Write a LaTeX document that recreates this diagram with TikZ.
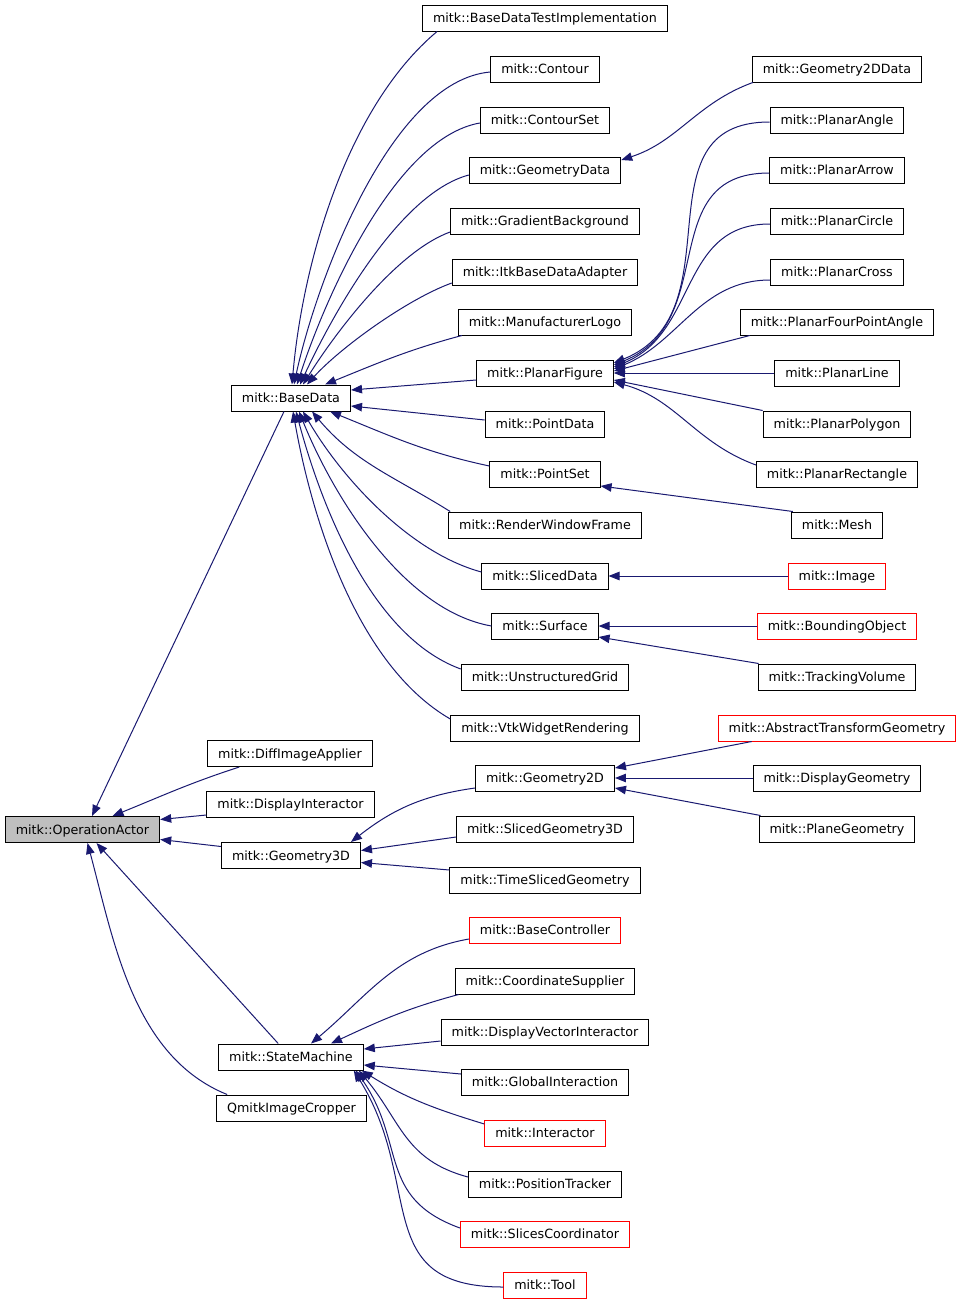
\documentclass[tikz,border=0pt]{standalone}
\usepackage{fontspec}
\setmainfont{DejaVu Sans}
\usetikzlibrary{arrows.meta}
\definecolor{edgeblue}{RGB}{25,25,112}
\definecolor{boxgray}{RGB}{191,191,191}
\begin{document}
\begin{tikzpicture}[x=1pt, y=-1pt, font=\fontsize{12.7}{15}\selectfont, >={Triangle[length=11pt,width=8.5pt]},
	cls/.style={draw=black, line width=1pt, minimum height=26pt, inner xsep=10.5pt, inner ysep=0pt, text height=11.5pt, text depth=2.5pt},
	clsred/.style={cls, draw=red},
	clsroot/.style={cls, fill=boxgray},
	inh/.style={draw=edgeblue, line width=1pt, ->}]
	\useasboundingbox (0,0) rectangle (963,1304);
	\node[clsroot] (opactor) at (82.5,829.5) {mitk::OperationActor};
	\node[cls] (basedata) at (291,398) {mitk::BaseData};
	\node[cls] (diffimg) at (290,753.5) {mitk::DiffImageApplier};
	\node[cls] (dispint) at (290.5,804) {mitk::DisplayInteractor};
	\node[cls] (geom3d) at (291,855.5) {mitk::Geometry3D};
	\node[cls] (statemach) at (291,1057) {mitk::StateMachine};
	\node[cls] (qcropper) at (291.5,1108) {QmitkImageCropper};
	\foreach \nm/\lbl/\y/\sty in {bdti/BaseDataTestImplementation/18/cls, contour/Contour/69/cls,
		contourset/ContourSet/120/cls, geomdata/GeometryData/170/cls, gradbg/GradientBackground/221/cls,
		itkadapter/ItkBaseDataAdapter/272/cls, manulogo/ManufacturerLogo/322/cls, planarfig/PlanarFigure/373/cls,
		pointdata/PointData/424/cls, pointset/PointSet/474/cls, renderwf/RenderWindowFrame/525/cls,
		sliceddata/SlicedData/576/cls, surface/Surface/626/cls, ugrid/UnstructuredGrid/677/cls,
		vtkwidget/VtkWidgetRendering/728/cls, geom2d/Geometry2D/778/cls, slicedgeom/SlicedGeometry3D/829/cls,
		timesliced/TimeSlicedGeometry/880/cls, basectrl/BaseController/930/clsred, coordsup/CoordinateSupplier/981/cls,
		dispvec/DisplayVectorInteractor/1032/cls, globalint/GlobalInteraction/1082/cls, interactor/Interactor/1133/clsred,
		postrack/PositionTracker/1184/cls, slicescoord/SlicesCoordinator/1234/clsred, tool/Tool/1285/clsred}
		\node[\sty] (\nm) at (545,\y) {mitk::\lbl};
	\foreach \nm/\lbl/\y/\sty in {geom2ddata/Geometry2DData/69/cls, planarangle/PlanarAngle/120/cls,
		planararrow/PlanarArrow/170/cls, planarcircle/PlanarCircle/221/cls, planarcross/PlanarCross/272/cls,
		planarfpa/PlanarFourPointAngle/322/cls, planarline/PlanarLine/373/cls, planarpoly/PlanarPolygon/424/cls,
		planarrect/PlanarRectangle/474/cls, mesh/Mesh/525/cls, image/Image/576/clsred,
		boundobj/BoundingObject/626/clsred, trackvol/TrackingVolume/677/cls,
		abstracttf/AbstractTransformGeometry/728/clsred, dispgeom/DisplayGeometry/778/cls, planegeom/PlaneGeometry/829/cls}
		\node[\sty] (\nm) at (837,\y) {mitk::\lbl};
	% BaseData
	\draw[inh] ([xshift=15pt]bdti.south west) to[out=220,in=85,looseness=0.8] ([xshift=1pt]basedata.north);
	\draw[inh] ([yshift=-3pt]contour.west) to[out=185,in=78,looseness=0.7] ([xshift=3pt]basedata.north);
	\draw[inh] ([yshift=-3pt]contourset.west) to[out=190,in=72,looseness=0.7] ([xshift=6pt]basedata.north);
	\draw[inh] ([yshift=-5pt]geomdata.west) to[out=195,in=65,looseness=0.7] ([xshift=9pt]basedata.north);
	\draw[inh] ([yshift=-11pt]gradbg.west) to[out=200,in=58,looseness=0.7] ([xshift=12pt]basedata.north);
	\draw[inh] ([yshift=-11pt]itkadapter.west) to[out=200,in=48,looseness=0.7] ([xshift=16pt]basedata.north);
	\draw[inh] ([xshift=4pt]manulogo.south west) to[out=195,in=22] ([xshift=34pt]basedata.north);
	\draw[inh] ([yshift=-7pt]planarfig.west) -- ([yshift=8pt]basedata.east);
	\draw[inh] ([yshift=4pt]pointdata.west) -- ([yshift=-8pt]basedata.east);
	\draw[inh] ([yshift=8pt]pointset.west) to[out=168,in=-22] ([xshift=39pt]basedata.south);
	\draw[inh] ([xshift=2pt]renderwf.north west) to[out=148,in=-50] ([xshift=21pt]basedata.south);
	\draw[inh] ([yshift=4pt]sliceddata.west) to[out=165,in=-60,looseness=0.8] ([xshift=12pt]basedata.south);
	\draw[inh] (surface.west) to[out=170,in=-68,looseness=0.8] ([xshift=8pt]basedata.south);
	\draw[inh] ([yshift=8pt]ugrid.west) to[out=160,in=-75,looseness=0.8] ([xshift=5pt]basedata.south);
	\draw[inh] ([yshift=9pt]vtkwidget.west) to[out=150,in=-80,looseness=0.8] ([xshift=2pt]basedata.south);
	% OperationActor
	\draw[inh] ([xshift=-7pt]basedata.south) -- ([xshift=9.5pt]opactor.north);
	\draw[inh] ([xshift=32pt]diffimg.south west) to[out=198,in=22] ([xshift=30pt]opactor.north);
	\draw[inh] ([yshift=-11pt]dispint.west) -- ([yshift=10pt]opactor.east);
	\draw[inh] ([yshift=9pt]geom3d.west) -- ([yshift=-10pt]opactor.east);
	\draw[inh] ([xshift=60pt]statemach.north west) -- ([xshift=14pt]opactor.south);
	\draw[inh] ([xshift=11pt]qcropper.north west) to[out=158,in=-75,looseness=0.9] ([xshift=5pt]opactor.south);
	% Geometry3D
	\draw[inh] ([yshift=-10pt]geom2d.west) to[out=188,in=38] ([xshift=-10pt]geom3d.north east);
	\draw[inh] ([yshift=-8pt]slicedgeom.west) -- ([yshift=5pt]geom3d.east);
	\draw[inh] ([yshift=10pt]timesliced.west) -- ([yshift=-7pt]geom3d.east);
	% StateMachine
	\draw[inh] ([yshift=-9pt]basectrl.west) to[out=190,in=40] ([xshift=20pt]statemach.north);
	\draw[inh] ([xshift=4pt]coordsup.south west) to[out=195,in=25] ([xshift=40pt]statemach.north);
	\draw[inh] ([yshift=-9pt]dispvec.west) -- ([yshift=8pt]statemach.east);
	\draw[inh] ([yshift=8pt]globalint.west) -- ([yshift=-8pt]statemach.east);
	\draw[inh] ([yshift=9pt]interactor.west) to[out=163,in=-32] ([xshift=-2pt]statemach.south east);
	\draw[inh] ([yshift=7pt]postrack.west) to[out=165,in=-50,looseness=1.1] ([xshift=-5pt]statemach.south east);
	\draw[inh] ([yshift=6pt]slicescoord.west) to[out=160,in=-55,looseness=1.2] ([xshift=-8pt]statemach.south east);
	\draw[inh] ([yshift=-2pt]tool.west) to[out=180,in=-58,looseness=1.3] ([xshift=-10pt]statemach.south east);
	% PlanarFigure
	\draw[inh] ([yshift=-2pt]planarangle.west) to[out=180,in=22,looseness=1.2] ([yshift=10pt]planarfig.east);
	\draw[inh] ([yshift=-3pt]planararrow.west) to[out=180,in=22,looseness=1.2] ([yshift=8pt]planarfig.east);
	\draw[inh] ([yshift=-3pt]planarcircle.west) to[out=180,in=22,looseness=1.1] ([yshift=6pt]planarfig.east);
	\draw[inh] ([yshift=-8pt]planarcross.west) to[out=180,in=22] ([yshift=4pt]planarfig.east);
	\draw[inh] ([xshift=10pt]planarfpa.south west) -- ([yshift=2pt]planarfig.east);
	\draw[inh] (planarline.west) -- (planarfig.east);
	\draw[inh] (planarpoly.north west) -- ([yshift=-7pt]planarfig.east);
	\draw[inh] ([yshift=9pt]planarrect.west) to[out=160,in=-15] ([yshift=-9pt]planarfig.east);
	% the rest
	\draw[inh] ([xshift=1pt]geom2ddata.south west) to[out=200,in=18] ([yshift=10pt]geomdata.east);
	\draw[inh] ([xshift=2pt]mesh.north west) -- ([yshift=-12pt]pointset.east);
	\draw[inh] (image.west) -- (sliceddata.east);
	\draw[inh] (boundobj.west) -- (surface.east);
	\draw[inh] ([xshift=1pt]trackvol.north west) -- ([yshift=-11pt]surface.east);
	\draw[inh] ([xshift=34pt]abstracttf.south west) -- ([yshift=10pt]geom2d.east);
	\draw[inh] (dispgeom.west) -- (geom2d.east);
	\draw[inh] ([xshift=2pt]planegeom.north west) -- ([yshift=-10pt]geom2d.east);
\end{tikzpicture}
\end{document}
